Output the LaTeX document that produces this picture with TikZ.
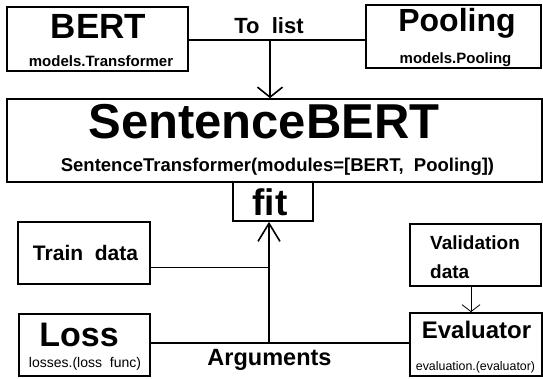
\documentclass[tikz,border=0pt]{standalone}
\usepackage{fontspec}
\setmainfont{Liberation Sans}
\usetikzlibrary{arrows.meta}
\newcommand\fsz[1]{\fontsize{#1}{#1}\selectfont}
\tikzset{
  box/.style={draw, line width=1.7pt, inner sep=0pt, fill=white},
  lbl/.style={anchor=base, inner sep=0pt},
  link/.style={line width=1.6pt},
  thinlink/.style={line width=0.8pt},
}
\begin{document}
\begin{tikzpicture}[x=1pt, y=-1pt]
  \useasboundingbox[fill=white] (0,0) rectangle (543,378);

  % boxes
  \node[box, minimum width=181pt, minimum height=64pt] (bert)  at (97.5,39)  {};
  \node[box, minimum width=175pt, minimum height=63pt] (pool)  at (453.5,36.5) {};
  \node[box, minimum width=535pt, minimum height=83pt] (sbert) at (274.5,140.5) {};
  \node[box, minimum width=80pt,  minimum height=39pt] (fit)   at (273,201.5) {};
  \node[box, minimum width=132pt, minimum height=62pt] (train) at (84,253)   {};
  \node[box, minimum width=131pt, minimum height=62pt] (loss)  at (84.5,345) {};
  \node[box, minimum width=131pt, minimum height=62pt] (valid) at (475.5,255) {};
  \node[box, minimum width=132pt, minimum height=63pt] (eval)  at (476,344.5) {};

  % texts
  \node[lbl, font=\bfseries\fsz{35}] (bertT) at (98.5,38) {BERT};
  \node[lbl, font=\bfseries\fsz{15}] (bertS) at (101,66) {models.Transformer};
  \node[lbl, font=\bfseries\fsz{32}] (poolT) at (457,31) {Pooling};
  \node[lbl, font=\bfseries\fsz{15}] (poolS) at (455.5,63) {models.Pooling};
  \node[lbl, font=\bfseries\fsz{22}] (tolist) at (269,33) {To\ \ list};
  \node[lbl, font=\bfseries\fsz{49}] (sbertT) at (264,138) {SentenceBERT};
  \node[lbl, font=\bfseries\fsz{18.5}] (sbertS) at (277.5,171) {SentenceTransformer(modules=[BERT,\ \ Pooling])};
  \node[lbl, font=\bfseries\fsz{37}] (fitT) at (270,215) {fit};
  \node[lbl, font=\bfseries\fsz{21}] (trainT) at (85.5,260) {Train\ \ data};
  \node[lbl, font=\bfseries\fsz{34}] (lossT) at (79,346) {Loss};
  \node[lbl, font=\fsz{14}] (lossS) at (85,367) {losses.(loss\ \ func)};
  \node[lbl, font=\bfseries\fsz{23.5}] (args) at (269.5,365) {Arguments};
  \node[lbl, anchor=base west, font=\bfseries\fsz{19}] (validT) at (430,249) {Validation};
  \node[lbl, anchor=base west, font=\bfseries\fsz{19}] (validT2) at (430,278) {data};
  \node[lbl, font=\bfseries\fsz{24}] (evalT) at (476.5,338) {Evaluator};
  \node[lbl, font=\fsz{12.4}] (evalS) at (475.5,370) {evaluation.(evaluator)};

  % junction points on the connectors
  \coordinate (tj) at (270,40);
  \coordinate (trj) at (269,267);
  \coordinate (aj) at (269,343);
  \coordinate (vj) at (471,0);

  % connectors
  \draw[link] (bert.east |- tj) -- (pool.west |- tj);
  \draw[link, -{Straight Barb[length=10pt, width=25pt]}] (tj) -- (sbert.north -| tj);
  \draw[link] (loss.east |- aj) -- (eval.west |- aj);
  \draw[link, -{Straight Barb[length=18pt, width=22pt]}] (aj) -- (fit.south -| aj);
  \draw[thinlink] (train.east |- trj) -- (trj);
  \draw[thinlink, -{Straight Barb[length=7pt, width=18pt]}] (valid.south -| vj) -- (eval.north -| vj);
\end{tikzpicture}
\end{document}
